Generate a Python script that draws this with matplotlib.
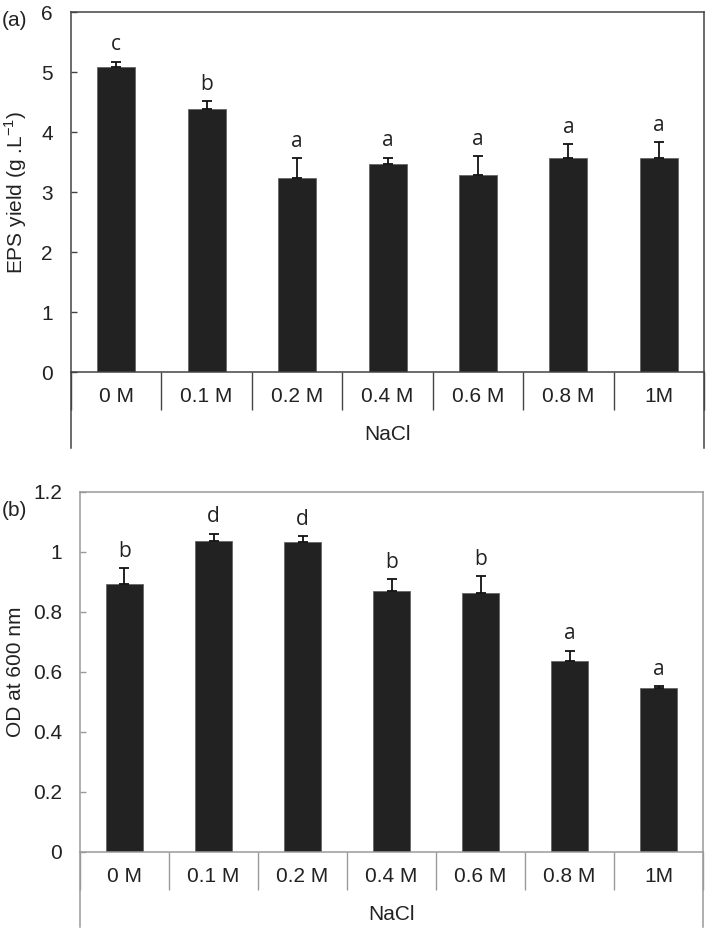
import numpy as np
import matplotlib
matplotlib.use("Agg")
import matplotlib.pyplot as plt

# -------------------------------
# data
# -------------------------------
conc = ["0 M", "0.1 M", "0.2 M", "0.4 M", "0.6 M", "0.8 M", "1M"]

eps_yield = [5.09, 4.38, 3.23, 3.47, 3.28, 3.56, 3.57]
eps_err = [0.08, 0.13, 0.33, 0.10, 0.32, 0.24, 0.26]
eps_letters = ["c", "b", "a", "a", "a", "a", "a"]

od600 = [0.891, 1.037, 1.033, 0.870, 0.861, 0.637, 0.547]
od_err = [0.054, 0.023, 0.019, 0.039, 0.057, 0.033, 0.004]
od_letters = ["b", "d", "d", "b", "b", "a", "a"]

plt.rcParams["font.family"] = ["Liberation Sans", "DejaVu Sans"]

fig = plt.figure(figsize=(7.09, 9.30), dpi=100)
ax_a = fig.add_axes([0.1001, 0.600, 0.893, 0.387])
ax_b = fig.add_axes([0.1128, 0.0842, 0.879, 0.387])


def draw_panel(ax, vals, errs, letters, ymax, ystep, ylabel, label_x,
               spine_col, fmt):
    x = np.arange(len(conc))
    ax.bar(x, vals, width=0.42, color="#222222", edgecolor="#666666",
           linewidth=0.6, zorder=2)
    ax.errorbar(x, vals, yerr=[np.zeros(len(errs)), errs], fmt="none",
                ecolor="#111111", elinewidth=1.3, capsize=3.6, capthick=1.3,
                zorder=3)
    off = ymax * 0.018
    for xi, v, e, s in zip(x, vals, errs, letters):
        ax.text(xi, v + e + off, s, ha="center", va="bottom", fontsize=15,
                family=["Open Sans", "DejaVu Sans"], color="#222222")

    ax.set_xlim(-0.5, len(conc) - 0.5)
    ax.set_ylim(0, ymax)
    yt = np.arange(0, ymax + ystep / 2, ystep)
    ax.set_yticks(yt)
    ax.set_yticklabels([fmt(v) for v in yt])
    ax.tick_params(axis="y", direction="in", length=4.5, width=1,
                   color=spine_col, labelsize=15, labelcolor="#222222", pad=13)

    # category axis: labels between separator ticks
    ax.set_xticks(x)
    ax.set_xticklabels(conc)
    ax.set_xticks(np.arange(-0.5, len(conc)), minor=True)
    ax.tick_params(axis="x", which="major", length=0, labelsize=15,
                   labelcolor="#222222", pad=11)
    ax.tick_params(axis="x", which="minor", direction="out", length=27.5,
                   width=1, color=spine_col)

    for sp in ax.spines.values():
        sp.set_color(spine_col)
        sp.set_linewidth(1.1)

    # side lines run down past the category labels
    for xs in (0, 1):
        ax.plot([xs, xs], [0, -0.21], transform=ax.transAxes, color=spine_col,
                lw=1.1, clip_on=False)

    ax.text(0.5, -0.175, "NaCl", transform=ax.transAxes, ha="center",
            va="center", fontsize=15, color="#222222")
    ax.set_ylabel(ylabel, fontsize=15, color="#222222")
    ax.yaxis.set_label_coords(label_x, 0.5)
    ax.yaxis.label.set_verticalalignment("center")


draw_panel(ax_a, eps_yield, eps_err, eps_letters, 6, 1,
           r"EPS yield (g .L$^{\mathregular{-1}}$)", -0.087, "#444444",
           lambda v: f"{v:g}")
draw_panel(ax_b, od600, od_err, od_letters, 1.2, 0.2,
           "OD at 600 nm", -0.104, "#9a9a9a",
           lambda v: f"{round(v, 1):g}")

fig.text(2 / 709, 1 - 21 / 930, "(a)", ha="left", va="center", fontsize=15,
         color="#222222")
fig.text(2 / 709, 1 - 511 / 930, "(b)", ha="left", va="center", fontsize=15,
         color="#222222")

fig.savefig("out.png", dpi=100)
